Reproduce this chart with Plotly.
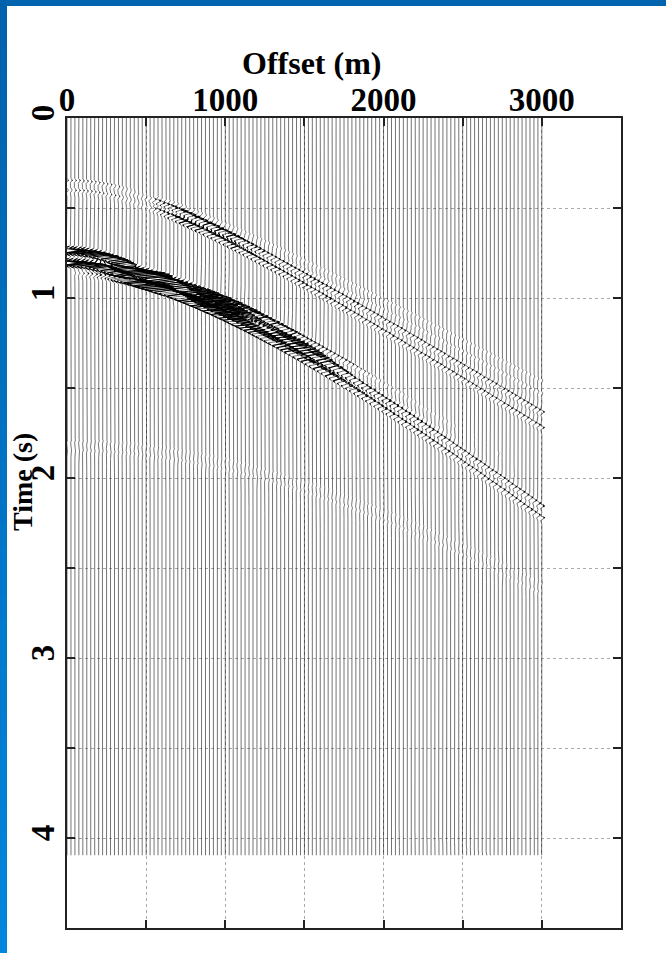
import numpy as np
import plotly.graph_objects as go

# ---------------- data ----------------
trace_offsets = np.arange(0, 3001, 25)          # m, one wiggle trace every 25 m
sample_interval = 0.004                          # s
record_length = 4.096                            # s

# reflection events: zero-offset time, moveout velocity
event_t0 = [0.345, 0.400, 0.345, 0.400,
            0.737, 0.804, 0.800, 0.860, 0.800, 0.860,
            1.790, 1.845,
            2.690, 2.740, 2.800, 2.860,
            3.580, 3.630, 3.680, 3.720]
event_vel = [2117, 2031, 1880, 1795,
             1150, 1150, 1500, 1465, 1620, 1580,
             1615, 1589,
             1466, 1466, 1466, 1466,
             1550, 1550, 1550, 1550]
# relative amplitude of each event at these offsets
amp_offsets = [0, 250, 500, 750, 1000, 1500, 2000, 2500, 3000]
event_amp = [
    [0.20, 0.20, 0.20, 0.20, 0.20, 0.20, 0.20, 0.20, 0.20],
    [0.20, 0.20, 0.20, 0.20, 0.20, 0.20, 0.20, 0.20, 0.20],
    [0.10, 0.12, 0.30, 1.30, 1.10, 0.70, 0.55, 0.50, 0.50],
    [0.10, 0.12, 0.30, 1.30, 1.10, 0.70, 0.55, 0.50, 0.50],
    [2.60, 2.60, 0.90, 0.00, 0.00, 0.00, 0.00, 0.00, 0.00],
    [2.60, 2.60, 0.90, 0.00, 0.00, 0.00, 0.00, 0.00, 0.00],
    [0.00, 0.40, 3.20, 3.40, 3.00, 1.60, 0.80, 0.55, 0.55],
    [0.00, 0.40, 3.20, 3.40, 3.00, 1.60, 0.80, 0.55, 0.55],
    [0.00, 0.40, 2.40, 2.60, 2.20, 0.80, 0.20, 0.10, 0.10],
    [0.00, 0.40, 2.40, 2.60, 2.20, 0.80, 0.20, 0.10, 0.10],
    [0.13, 0.13, 0.13, 0.13, 0.13, 0.13, 0.13, 0.13, 0.13],
    [0.13, 0.13, 0.13, 0.13, 0.13, 0.13, 0.13, 0.13, 0.13],
    [0.09, 0.09, 0.09, 0.09, 0.09, 0.09, 0.09, 0.09, 0.09],
    [0.09, 0.09, 0.09, 0.09, 0.09, 0.09, 0.09, 0.09, 0.09],
    [0.09, 0.09, 0.09, 0.09, 0.09, 0.09, 0.09, 0.09, 0.09],
    [0.09, 0.09, 0.09, 0.09, 0.09, 0.09, 0.09, 0.09, 0.09],
    [0.09, 0.09, 0.09, 0.09, 0.09, 0.09, 0.09, 0.09, 0.09],
    [0.09, 0.09, 0.09, 0.09, 0.09, 0.09, 0.09, 0.09, 0.09],
    [0.09, 0.09, 0.09, 0.09, 0.09, 0.09, 0.09, 0.09, 0.09],
    [0.09, 0.09, 0.09, 0.09, 0.09, 0.09, 0.09, 0.09, 0.09],
]
wavelet_freq = 25.0      # Hz
wiggle_scale = 30.0      # m of deflection per unit amplitude

x_ticks = [0, 500, 1000, 1500, 2000, 2500, 3000, 3500]
x_tick_text = ["0", "", "1000", "", "2000", "", "3000", ""]
y_ticks = [0, 0.5, 1, 1.5, 2, 2.5, 3, 3.5, 4, 4.5]
y_tick_text = ["0", "", "1", "", "2", "", "3", "", "4", ""]

# ---------------- build wiggles ----------------
t = np.arange(0, record_length + 1e-9, sample_interval)
xs, ys = [], []          # full traces (gray)
xe, ye = [], []          # strong excursions (black)
for x0 in trace_offsets:
    tr = np.zeros_like(t)
    for t0, v, amps in zip(event_t0, event_vel, event_amp):
        a = np.interp(x0, amp_offsets, amps)
        if a == 0:
            continue
        tx = np.sqrt(t0 ** 2 + (x0 / v) ** 2)
        arg = (np.pi * wavelet_freq * (t - tx)) ** 2
        tr += a * (1 - 2 * arg) * np.exp(-arg)
    dx = wiggle_scale * tr
    xw = x0 + dx
    xs.extend(xw.tolist()); xs.append(None)
    ys.extend(t.tolist()); ys.append(None)
    strong = np.abs(dx) > 7.0
    for xi, yi, s in zip(xw, t, strong):
        if s:
            xe.append(float(xi)); ye.append(float(yi))
        elif xe and xe[-1] is not None:
            xe.append(None); ye.append(None)
    if xe and xe[-1] is not None:
        xe.append(None); ye.append(None)

fig = go.Figure()
fig.add_trace(go.Scatter(x=xs, y=ys, mode="lines",
                         line=dict(color="rgba(0,0,0,0.55)", width=1),
                         hoverinfo="skip", showlegend=False))
fig.add_trace(go.Scatter(x=xe, y=ye, mode="lines",
                         line=dict(color="black", width=1.1),
                         hoverinfo="skip", showlegend=False))

W, H = 666, 953
L, R, T, B = 67, 621, 118, 928
pw, ph = R - L, B - T
def px(xp): return (xp - L) / pw
def py(yp): return (B - yp) / ph

shapes = []
# blue frame: top band and gradient left band
shapes.append(dict(type="rect", xref="paper", yref="paper", layer="above",
                   x0=px(0), x1=px(W), y0=py(6), y1=py(0),
                   fillcolor="#0064AE", line_width=0))
n = 40
c0 = np.array([0x00, 0x62, 0xAC]); c1 = np.array([0x00, 0x86, 0xDC])
for i in range(n):
    c = (c0 + (c1 - c0) * i / (n - 1)).astype(int)
    shapes.append(dict(type="rect", xref="paper", yref="paper", layer="above",
                       x0=px(0), x1=px(7), y0=py(H * (i + 1) / n + 1), y1=py(H * i / n),
                       fillcolor="rgb(%d,%d,%d)" % tuple(c), line_width=0))
fig.update_layout(shapes=shapes)

font_b = dict(family="Liberation Serif", size=33, color="black", weight="bold")
fig.update_layout(
    width=W, height=H,
    margin=dict(l=L, r=W - R, t=T, b=H - B, pad=0),
    paper_bgcolor="white", plot_bgcolor="white",
    xaxis=dict(range=[0, 3500], side="top", tickvals=x_ticks, ticktext=x_tick_text,
               ticks="inside", ticklen=8, tickwidth=1.5, tickcolor="#222",
               showline=True, linecolor="#222", linewidth=1.5, mirror="allticks",
               showgrid=True, gridcolor="#aaa", griddash="dot", gridwidth=1,
               zeroline=False, tickfont=font_b, ticklabelstandoff=-8),
    yaxis=dict(range=[4.5, 0], tickvals=y_ticks, ticktext=y_tick_text, tickangle=-90,
               ticks="inside", ticklen=8, tickwidth=1.5, tickcolor="#222",
               showline=True, linecolor="#222", linewidth=1.5, mirror="allticks",
               showgrid=True, gridcolor="#aaa", griddash="dot", gridwidth=1,
               zeroline=False, tickfont=font_b, ticklabelstandoff=-2),
    annotations=[
        dict(text="Offset (m)", xref="paper", yref="paper",
             x=px(311), y=py(63), xanchor="center", yanchor="middle",
             showarrow=False,
             font=dict(family="Liberation Serif", size=32, color="black", weight="bold")),
        dict(text="Time (s)", xref="paper", yref="paper",
             x=px(22), y=py(482), xanchor="center", yanchor="middle",
             textangle=-90, showarrow=False,
             font=dict(family="Liberation Serif", size=28, color="black", weight="bold"))],
)
fig.write_html("out.html", config={"displayModeBar": False},
               post_script="document.body.style.margin='0';document.body.style.overflow='hidden';")
